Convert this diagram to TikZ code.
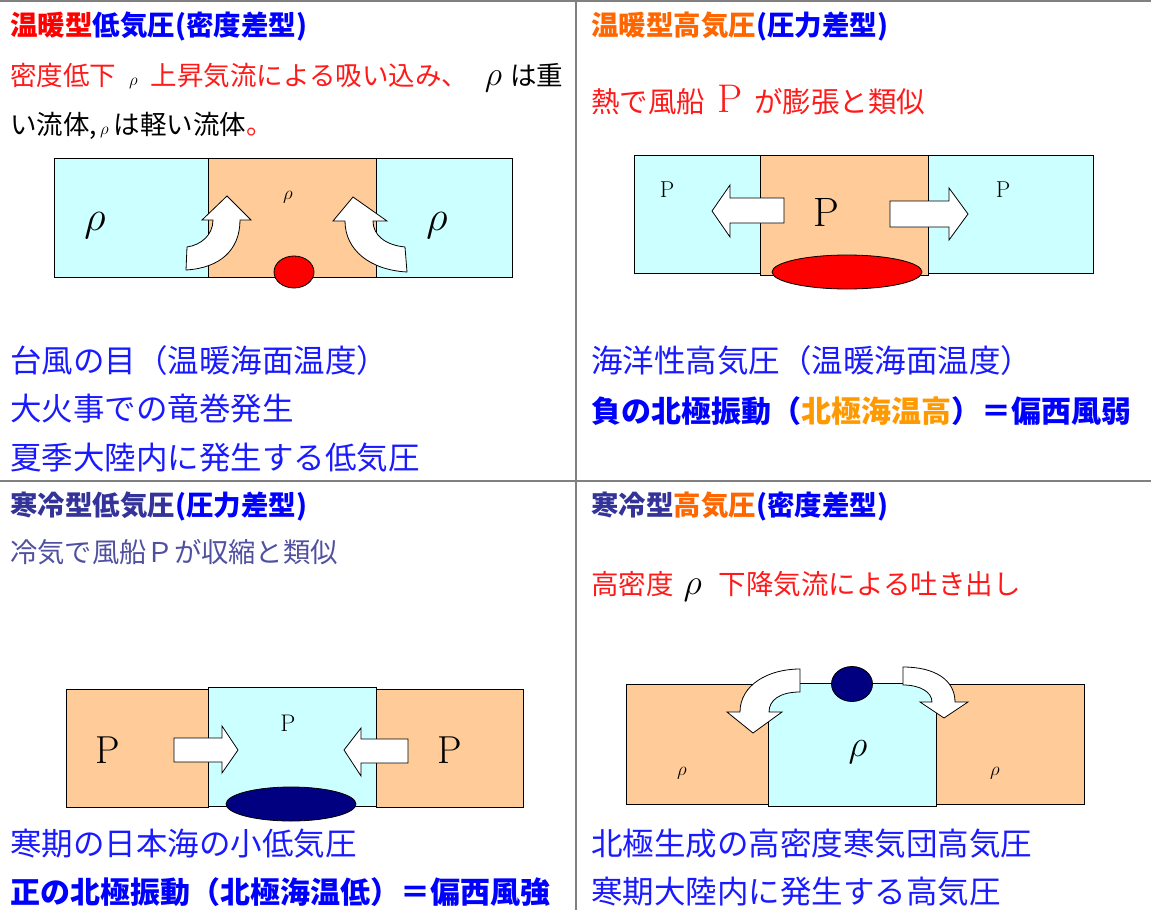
\RequirePackage{fix-cm}
\documentclass[tikz,border=0pt]{standalone}
\usepackage{fontspec}
\newfontfamily\jp{Noto Sans CJK JP}
\definecolor{cyanfill}{HTML}{CCFFFF}
\definecolor{orfill}{HTML}{FFCC99}
\definecolor{hblue}{HTML}{0000FF}
\definecolor{tblue}{HTML}{1A1AFF}
\definecolor{horange}{HTML}{FF6600}
\definecolor{amber}{HTML}{FF9900}
\definecolor{navy}{HTML}{000080}
\definecolor{slate}{HTML}{333399}
\definecolor{slatetxt}{HTML}{5050A0}
\definecolor{gridgray}{HTML}{808080}
\definecolor{txtred}{HTML}{FF1A1A}
\newcommand\szH{\fontsize{27.5}{32}\selectfont}
\newcommand\szB{\fontsize{26.5}{30}\selectfont}
\newcommand\szL{\fontsize{31.5}{36}\selectfont}
\newcommand\szBold{\fontsize{30}{36}\selectfont}
\newcommand\fs[1]{\fontsize{#1}{#1}\selectfont}
\begin{document}
\begin{tikzpicture}[x=1pt,y=-1pt,
  txt/.style={anchor=base west, inner sep=0pt, font=\jp},
  lbl/.style={inner sep=0pt},
  cyanbox/.style={draw=black, line width=0.9pt, fill=cyanfill},
  orbox/.style={draw=black, line width=0.9pt, fill=orfill},
  warrow/.style={draw=black, line width=0.8pt, fill=white, line join=miter},
  grid/.style={draw=gridgray, line width=1.2pt}]
\useasboundingbox (0,0) rectangle (1151,910);
% grid lines
\draw[grid] (0,1) -- (1151,1);
\draw[grid] (0,481) -- (1151,481);
\draw[grid] (576,0) -- (576,910);

% ===== top-left =====
\node[txt] (h1) at (10,35) {\szH\bfseries\textcolor{red}{温暖型}\textcolor{hblue}{低気圧(密度差型)}};
\node[txt] (t1a) at (10,85) {\szB\textcolor{txtred}{密度低下}\hspace{13pt}{\fs{17}$\rho$}\hspace{13pt}\textcolor{txtred}{上昇気流による吸い込み、}\hspace{17pt}{\fs{34}$\rho$}\hspace{8pt}は重};
\node[txt] (t1b) at (10,134) {\szB い流体,\hspace{3pt}{\fs{17}$\rho$}\hspace{5pt}は軽い流体\textcolor{txtred}{。}};
\draw[cyanbox] (54,158) rectangle (208,277);
\draw[cyanbox] (376,158) rectangle (512,277);
\draw[orbox] (208,158) rectangle (376,277);
\draw[draw=black, line width=0.8pt, fill=red] (294,272) ellipse [x radius=20pt, y radius=16pt];
\draw[warrow] (186,270) -- (187,247) .. controls (201,245) and (213,235) .. (213,220) -- (202,220) -- (227,196) -- (251,220) -- (240,220) .. controls (240,250) and (220,268) .. (186,270) -- cycle;
\draw[warrow] (407,272) -- (405,247) .. controls (385,245) and (373,235) .. (373,221) -- (387,221) -- (353,197) -- (333,221) -- (345,221) .. controls (345,250) and (370,270) .. (407,272) -- cycle;
\node[lbl] (r1l) at (95,226) {\fs{42}$\rho$};
\node[lbl] (r1c) at (288,197) {\fs{19}$\rho$};
\node[lbl] (r1r) at (437,226) {\fs{42}$\rho$};
\node[txt] (b1a) at (10,372) {\szL\textcolor{tblue}{台風の目（温暖海面温度）}};
\node[txt] (b1b) at (10,420) {\szL\textcolor{tblue}{大火事での竜巻発生}};
\node[txt] (b1c) at (10,469) {\szL\textcolor{tblue}{夏季大陸内に発生する低気圧}};

% ===== top-right =====
\node[txt] (h2) at (591,35) {\szH\bfseries\textcolor{horange}{温暖型高気圧}\textcolor{hblue}{(圧力差型)}};
\node[txt] (t2a) at (591,112) {\fs{28.5}\textcolor{txtred}{熱で風船\hspace{12pt}{\fs{40}\rmfamily P}\hspace{12pt}が膨張と類似}};
\draw[cyanbox] (634,155) rectangle (760,273);
\draw[cyanbox] (928,155) rectangle (1093,273);
\draw[orbox] (760,155) rectangle (928,275);
\draw[draw=black, line width=0.8pt, fill=red] (847,272) ellipse [x radius=75pt, y radius=17pt];
\draw[warrow] (784,198) -- (730,198) -- (730,185) -- (712,211) -- (730,237) -- (730,223) -- (784,223) -- cycle;
\draw[warrow] (890,201) -- (949,201) -- (949,188) -- (968,214) -- (949,240) -- (949,227) -- (890,227) -- cycle;
\node[lbl] (p2l) at (667,190) {\fs{23}\rmfamily P};
\node[lbl] (p2c) at (826,212) {\fs{41}\rmfamily P};
\node[lbl] (p2r) at (1003,190) {\fs{23}\rmfamily P};
\node[txt] (b2a) at (591,372) {\szL\textcolor{tblue}{海洋性高気圧（温暖海面温度）}};
\node[txt] (b2b) at (591,422) {\szBold\bfseries\textcolor{hblue}{負の北極振動（}\textcolor{amber}{北極海温高}\textcolor{hblue}{）＝偏西風弱}};

% ===== bottom-left =====
\node[txt] (h3) at (10,515) {\szH\bfseries\textcolor{slate}{寒冷型低気圧}\textcolor{hblue}{(圧力差型)}};
\node[txt] (t3a) at (10,562) {\fs{27.3}\textcolor{slatetxt}{冷気で風船Ｐが収縮と類似}};
\draw[orbox] (66,689) rectangle (208,807);
\draw[orbox] (376,689) rectangle (523,807);
\draw[cyanbox] (208,687) rectangle (376,806);
\draw[draw=black, line width=0.8pt, fill=navy] (291,804) ellipse [x radius=65pt, y radius=17pt];
\draw[warrow] (174,738) -- (222,738) -- (222,726) -- (238,750) -- (222,773) -- (222,762) -- (174,762) -- cycle;
\draw[warrow] (408,739) -- (361,739) -- (361,728) -- (344,750) -- (361,776) -- (361,763) -- (408,763) -- cycle;
\node[lbl] (p3l) at (108,750) {\fs{39}\rmfamily P};
\node[lbl] (p3c) at (288,723) {\fs{24}\rmfamily P};
\node[lbl] (p3r) at (450,750) {\fs{39}\rmfamily P};
\node[txt] (b3a) at (10,855) {\szL\textcolor{tblue}{寒期の日本海の小低気圧}};
\node[txt] (b3b) at (10,903) {\szBold\bfseries\textcolor{hblue}{正の北極振動（北極海温低）＝偏西風強}};

% ===== bottom-right =====
\node[txt] (h4) at (591,515) {\szH\bfseries\textcolor{slate}{寒冷型}\textcolor{horange}{高気圧}\textcolor{hblue}{(密度差型)}};
\node[txt] (t4a) at (591,594) {\fs{27.5}\textcolor{txtred}{高密度}\hspace{10pt}{\fs{36}$\rho$}\hspace{17pt}\textcolor{txtred}{下降気流による吐き出し}};
\draw[orbox] (626,684) rectangle (768,804);
\draw[orbox] (936,684) rectangle (1084,804);
\draw[cyanbox] (768,683) rectangle (936,806);
\draw[draw=black, line width=0.8pt, fill=navy] (852,684) ellipse [x radius=20.5pt, y radius=17.5pt];
\draw[warrow] (800,669) .. controls (768,669) and (740,685) .. (740,712) -- (727,712) -- (753,733) -- (782,712) -- (769,712) .. controls (769,700) and (780,692) .. (800,692) -- cycle;
\draw[warrow] (903,667) .. controls (935,667) and (955,680) .. (955,702) -- (968,702) -- (944,718) -- (920,702) -- (932,702) .. controls (932,692) and (920,685) .. (903,685) -- cycle;
\node[lbl] (r4l) at (682,773) {\fs{19}$\rho$};
\node[lbl] (r4c) at (858,752) {\fs{37}$\rho$};
\node[lbl] (r4r) at (995,773) {\fs{19}$\rho$};
\node[txt] (b4a) at (591,855) {\szL\textcolor{tblue}{北極生成の高密度寒気団高気圧}};
\node[txt] (b4b) at (591,903) {\szL\textcolor{tblue}{寒期大陸内に発生する高気圧}};
\end{tikzpicture}
\end{document}
